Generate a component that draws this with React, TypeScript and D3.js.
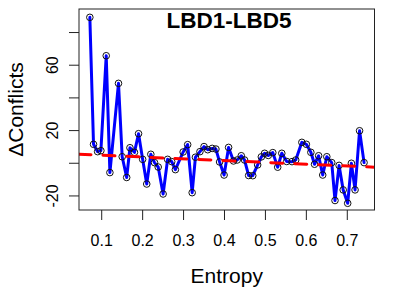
import React from "react";
import * as d3 from "d3";

// values
const entropy = [
  0.071, 0.08, 0.09, 0.098, 0.111, 0.12, 0.141, 0.15, 0.161, 0.169, 0.18, 0.19,
  0.2, 0.21, 0.22, 0.229, 0.238, 0.25, 0.261, 0.271, 0.28, 0.299, 0.31, 0.321,
  0.329, 0.34, 0.35, 0.359, 0.37, 0.379, 0.388, 0.399, 0.41, 0.422, 0.431,
  0.441, 0.449, 0.459, 0.469, 0.481, 0.49, 0.498, 0.507, 0.518, 0.53, 0.54,
  0.552, 0.565, 0.574, 0.589, 0.6, 0.611, 0.62, 0.63, 0.64, 0.65, 0.662, 0.67,
  0.68, 0.69, 0.701, 0.71, 0.719, 0.73, 0.741,
];
const conflicts = [
  89.3, 11.6, 7.1, 7.7, 65.8, -5.7, 48.9, 4.0, -8.7, 9.5, 6.7, 18.1, 2.4, -12.7,
  5.5, 0.4, -2.3, -18.8, 2.4, 1.0, -3.9, 6.9, 11.4, -18.0, 3.7, 7.1, 10.2, 8.3,
  9.1, 8.7, 0.8, -7.2, 9.7, 1.4, 2.0, 4.6, 2.0, -7.5, -7.6, -1.0, 3.9, 6.1, 4.8,
  6.5, -2.4, 6.1, 1.1, 1.0, 2.0, 12.8, 11.6, 6.7, -0.6, 4.6, -7.2, 4.0, 0.4,
  -22.8, -1.3, -16.3, -24.5, 0.0, -16.3, 19.9, 0.4,
];
const xTicks = [0.1, 0.2, 0.3, 0.4, 0.5, 0.6, 0.7];
const yTicks = [-20, 0, 20, 40, 60, 80];
const yLabelled = [-20, 20, 60];
// fitted trend (abline)
const trendIntercept = 6.0;
const trendSlope = -10.94;

const W = 415;
const H = 293;
const plot = { left: 79, right: 374.5, top: 9, bottom: 210 };
const font = "'Liberation Sans', Arial, Helvetica, sans-serif";

export default function App() {
  const x = d3.scaleLinear().domain([0.0445, 0.7665]).range([plot.left, plot.right]);
  const y = d3.scaleLinear().domain([-28.6, 94.4]).range([plot.bottom, plot.top]);

  const pts = entropy.map((e, i) => [e, conflicts[i]] as [number, number]);
  const line = d3
    .line<[number, number]>()
    .x((d) => x(d[0]))
    .y((d) => y(d[1]));

  const [x0, x1] = x.domain();
  const trend = line([
    [x0, trendIntercept + trendSlope * x0],
    [x1, trendIntercept + trendSlope * x1],
  ]);

  const midX = (plot.left + plot.right) / 2;
  const midY = (plot.top + plot.bottom) / 2;

  return (
    <svg
      width={W}
      height={H}
      style={{ position: "absolute", left: 0, top: 0, background: "#fff" }}
      fontFamily={font}
    >
      <defs>
        <clipPath id="plotclip">
          <rect
            x={plot.left}
            y={plot.top}
            width={plot.right - plot.left}
            height={plot.bottom - plot.top}
          />
        </clipPath>
      </defs>

      {/* series */}
      <path
        d={line(pts) ?? ""}
        fill="none"
        stroke="#0000ff"
        strokeWidth={3}
        strokeLinejoin="round"
        strokeLinecap="round"
      />
      {pts.map((d, i) => (
        <circle
          key={i}
          cx={x(d[0])}
          cy={y(d[1])}
          r={3.3}
          fill="none"
          stroke="#111"
          strokeWidth={1}
        />
      ))}

      {/* trend line */}
      <path
        d={trend ?? ""}
        clipPath="url(#plotclip)"
        fill="none"
        stroke="#ff0000"
        strokeWidth={3}
        strokeDasharray="12,12"
        strokeLinecap="round"
      />

      {/* box */}
      <rect
        x={plot.left}
        y={plot.top}
        width={plot.right - plot.left}
        height={plot.bottom - plot.top}
        fill="none"
        stroke="#222"
        strokeWidth={1}
      />

      {/* x axis */}
      {xTicks.map((t) => (
        <g key={t}>
          <line x1={x(t)} x2={x(t)} y1={plot.bottom} y2={plot.bottom + 10} stroke="#222" />
          <text x={x(t)} y={246} textAnchor="middle" fontSize={16}>
            {t.toFixed(1)}
          </text>
        </g>
      ))}

      {/* y axis */}
      {yTicks.map((t) => (
        <g key={t}>
          <line x1={plot.left - 10} x2={plot.left} y1={y(t)} y2={y(t)} stroke="#222" />
          {yLabelled.includes(t) && (
            <text
              transform={`translate(57.5,${y(t)}) rotate(-90)`}
              textAnchor="middle"
              fontSize={16}
            >
              {t}
            </text>
          )}
        </g>
      ))}

      {/* labels */}
      <text x={229} y={27.7} textAnchor="middle" fontSize={22.5} fontWeight="bold">
        LBD1-LBD5
      </text>
      <text x={midX} y={283} textAnchor="middle" fontSize={21}>
        Entropy
      </text>
      <text
        transform={`translate(23,${midY}) rotate(-90)`}
        textAnchor="middle"
        fontSize={21}
      >
        ΔConflicts
      </text>
    </svg>
  );
}
